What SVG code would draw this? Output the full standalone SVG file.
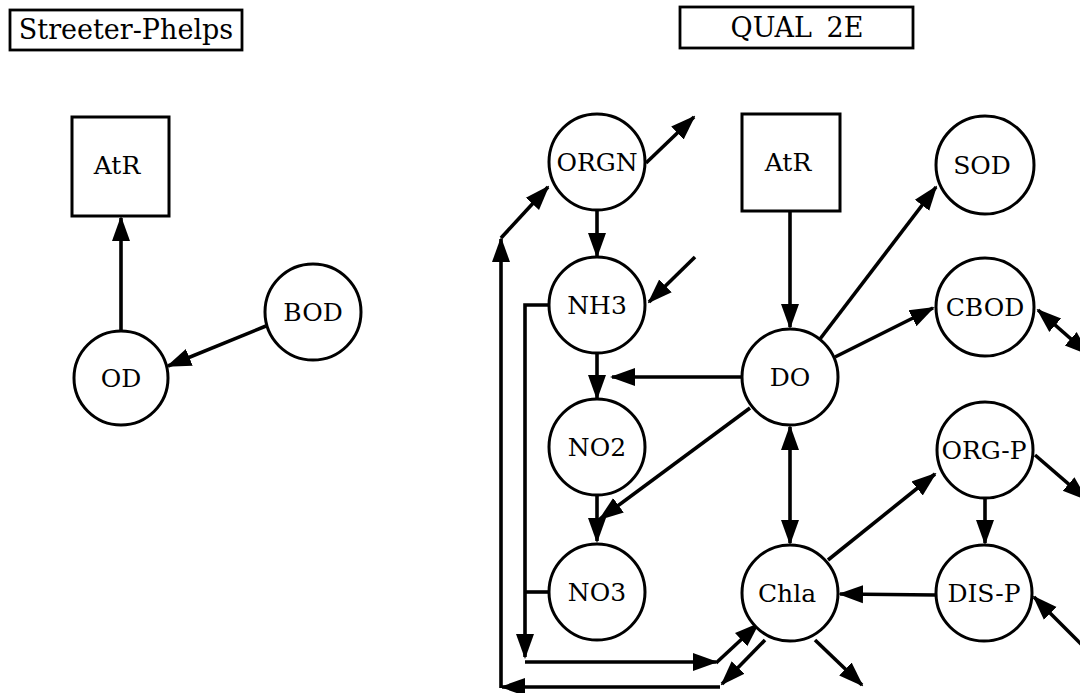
<svg xmlns="http://www.w3.org/2000/svg" width="1080" height="693" viewBox="0 0 1080 693">
<style>
.box{fill:#fff;stroke:#000;stroke-width:2.8}
.nd{fill:#fff;stroke:#000;stroke-width:3}
.t{font-family:"DejaVu Serif","Liberation Serif",serif;font-size:25px;fill:#000;text-anchor:middle}
.tt{font-family:"DejaVu Serif","Liberation Serif",serif;font-size:27px;fill:#000;text-anchor:middle}
.c line,.c polyline,.c path{stroke:#000;stroke-width:3.6;fill:none}
.e{marker-end:url(#ah)}
.b{marker-start:url(#ah);marker-end:url(#ah)}
</style>
<defs>
<marker id="ah" markerUnits="userSpaceOnUse" markerWidth="25" markerHeight="20" viewBox="0 0 25 20" refX="23" refY="10" orient="auto-start-reverse">
<path d="M0,1 L25,10 L0,19 z" fill="#000"/>
</marker>
</defs>
<rect width="1080" height="693" fill="#fff"/>

<g id="title-sp"><rect class="box" x="10" y="10" width="232" height="40"/><text class="tt" x="126" y="39">Streeter-Phelps</text></g>
<g id="title-q2e"><rect class="box" x="680" y="7" width="233" height="41"/><text class="tt" x="797" y="37" word-spacing="6">QUAL 2E</text></g>

<g class="c" id="connectors">
<line class="e" x1="121" y1="330" x2="121" y2="218"/>
<line class="e" x1="266" y1="326" x2="168" y2="366"/>

<line class="e" x1="646" y1="163" x2="694" y2="117"/>
<line class="e" x1="597" y1="210" x2="597" y2="256"/>
<line class="e" x1="695" y1="257" x2="649" y2="302"/>
<polyline class="e" points="549,305 525,305 525,657"/>
<line x1="549" y1="592" x2="525" y2="592"/>
<line class="e" x1="525" y1="662" x2="716" y2="662"/>
<line class="e" x1="716" y1="663" x2="758" y2="624"/>
<line class="e" x1="765" y1="640" x2="722" y2="684"/>
<line class="e" x1="720" y1="687" x2="502" y2="687"/>
<line class="e" x1="501" y1="688" x2="501" y2="239"/>
<line class="e" x1="501" y1="238" x2="548" y2="187"/>
<line class="e" x1="597" y1="353" x2="597" y2="398"/>
<line class="e" x1="742" y1="377" x2="612" y2="377"/>
<line class="e" x1="597" y1="495" x2="597" y2="541"/>
<line class="e" x1="750" y1="408" x2="600" y2="519"/>
<line class="e" x1="790" y1="211" x2="790" y2="327"/>
<line class="e" x1="820" y1="339" x2="936" y2="187"/>
<line class="e" x1="835" y1="357" x2="933" y2="308"/>
<line class="b" x1="1038" y1="310" x2="1088" y2="354"/>
<line class="e" x1="1035" y1="455" x2="1086" y2="499"/>
<line class="e" x1="985" y1="498" x2="985" y2="543"/>
<line class="e" x1="1082" y1="645" x2="1034" y2="597"/>
<line class="e" x1="936" y1="595" x2="840" y2="594"/>
<line class="b" x1="790" y1="427" x2="790" y2="543"/>
<line class="e" x1="828" y1="560" x2="935" y2="474"/>
<line class="e" x1="815" y1="640" x2="862" y2="685"/>
</g>

<g id="sp-AtR"><rect class="nd" x="72" y="117" width="97" height="99"/><text class="t" x="117" y="174">AtR</text></g>
<g id="sp-OD"><circle class="nd" cx="121" cy="378" r="47"/><text class="t" x="121" y="387">OD</text></g>
<g id="sp-BOD"><circle class="nd" cx="313" cy="312" r="48"/><text class="t" x="313" y="321">BOD</text></g>

<g id="ORGN"><circle class="nd" cx="597" cy="162" r="48"/><text class="t" x="597" y="171">ORGN</text></g>
<g id="NH3"><circle class="nd" cx="597" cy="305" r="48"/><text class="t" x="597" y="314">NH3</text></g>
<g id="NO2"><circle class="nd" cx="597" cy="447" r="48"/><text class="t" x="597" y="456">NO2</text></g>
<g id="NO3"><circle class="nd" cx="597" cy="592" r="48"/><text class="t" x="597" y="601">NO3</text></g>
<g id="q-AtR"><rect class="nd" x="742" y="114" width="98" height="97"/><text class="t" x="788" y="171">AtR</text></g>
<g id="DO"><circle class="nd" cx="790" cy="377" r="48"/><text class="t" x="790" y="386">DO</text></g>
<g id="SOD"><circle class="nd" cx="985" cy="165" r="49"/><text class="t" x="982" y="174">SOD</text></g>
<g id="CBOD"><circle class="nd" cx="985" cy="307" r="49"/><text class="t" x="985" y="316">CBOD</text></g>
<g id="ORG-P"><circle class="nd" cx="985" cy="450" r="48"/><text class="t" x="984" y="459">ORG-P</text></g>
<g id="DIS-P"><circle class="nd" cx="984" cy="593" r="48"/><text class="t" x="984" y="602">DIS-P</text></g>
<g id="Chla"><circle class="nd" cx="790" cy="593" r="48"/><text class="t" x="787" y="602">Chla</text></g>
</svg>
